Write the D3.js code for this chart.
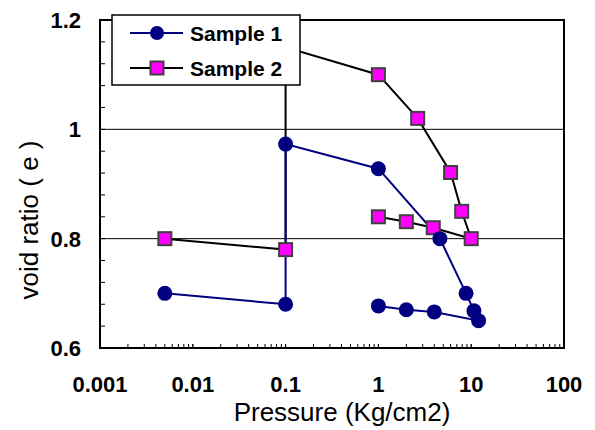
<!DOCTYPE html>
<html>
<head>
<meta charset="utf-8">
<script src="https://cdn.jsdelivr.net/npm/d3@7"></script>
<style>
  body { margin: 0; background: #fff; }
  text { font-family: Arial, "Liberation Sans", sans-serif; }
</style>
</head>
<body>
<script>
// data
var s1Pressure = [0.005, 0.1, 0.1, 1, 4.6, 8.8, 10.7, 12, 4, 2, 1];
var s1Void     = [0.70, 0.68, 0.973, 0.928, 0.80, 0.70, 0.668, 0.65, 0.666, 0.67, 0.677];
var s2Pressure = [0.005, 0.1, 0.1, 1, 2.65, 6, 7.9, 10, 3.9, 2, 1];
var s2Void     = [0.80, 0.78, 1.15, 1.10, 1.02, 0.921, 0.85, 0.80, 0.82, 0.831, 0.84];
var xTicks = [0.001, 0.01, 0.1, 1, 10, 100];
var yTicks = [0.6, 0.8, 1.0, 1.2];
var seriesNames = ['Sample 1', 'Sample 2'];

var width = 595, height = 430;
var margin = {left: 100, right: 31, top: 20, bottom: 82};

var svg = d3.select('body').append('svg')
  .attr('width', width)
  .attr('height', height);

var x = d3.scaleLog().domain([0.001, 100]).range([margin.left, width - margin.right]);
var y = d3.scaleLinear().domain([0.6, 1.2]).range([height - margin.bottom, margin.top]);

// gridlines
svg.selectAll('line.grid')
  .data([0.8, 1.0])
  .enter().append('line')
  .attr('class', 'grid')
  .attr('x1', x(0.001)).attr('x2', x(100))
  .attr('y1', function(d) { return y(d); })
  .attr('y2', function(d) { return y(d); })
  .attr('stroke', '#000').attr('stroke-width', 1);

// minor ticks on x (inside)
var xMinor = [];
for (var e = -3; e < 2; e++) {
  for (var k = 1; k <= 10; k++) xMinor.push(k * Math.pow(10, e));
}
svg.selectAll('line.xt')
  .data(xMinor)
  .enter().append('line')
  .attr('class', 'xt')
  .attr('x1', function(d) { return x(d); })
  .attr('x2', function(d) { return x(d); })
  .attr('y1', y(0.6)).attr('y2', y(0.6) - 4)
  .attr('stroke', '#000').attr('stroke-width', 1);

// minor ticks on y (inside)
var yMinor = d3.range(0, 16).map(function(i) { return 0.6 + i * 0.04; });
svg.selectAll('line.yt')
  .data(yMinor)
  .enter().append('line')
  .attr('class', 'yt')
  .attr('x1', x(0.001)).attr('x2', x(0.001) + 5)
  .attr('y1', function(d) { return y(d); })
  .attr('y2', function(d) { return y(d); })
  .attr('stroke', '#000').attr('stroke-width', 1);

// plot border
svg.append('rect')
  .attr('x', x(0.001)).attr('y', y(1.2))
  .attr('width', x(100) - x(0.001))
  .attr('height', y(0.6) - y(1.2))
  .attr('fill', 'none').attr('stroke', '#000').attr('stroke-width', 2);

// tick labels
svg.selectAll('text.xl')
  .data(xTicks)
  .enter().append('text')
  .attr('class', 'xl')
  .attr('x', function(d) { return x(d); })
  .attr('y', 392)
  .attr('text-anchor', 'middle')
  .attr('font-size', 22).attr('font-weight', 'bold')
  .text(function(d) { return d3.format('~g')(d); });

svg.selectAll('text.yl')
  .data(yTicks)
  .enter().append('text')
  .attr('class', 'yl')
  .attr('x', 81)
  .attr('y', function(d) { return y(d) + 8; })
  .attr('text-anchor', 'end')
  .attr('font-size', 22).attr('font-weight', 'bold')
  .text(function(d) { return d3.format('~g')(d); });

// axis titles
svg.append('text')
  .attr('x', 342).attr('y', 421)
  .attr('text-anchor', 'middle')
  .attr('font-size', 26)
  .text('Pressure (Kg/cm2)');

svg.append('text')
  .attr('transform', 'translate(38,220) rotate(-90)')
  .attr('text-anchor', 'middle')
  .attr('font-size', 26)
  .text('void ratio ( e )');

var line = d3.line()
  .x(function(d) { return x(d[0]); })
  .y(function(d) { return y(d[1]); });

var s1 = d3.zip(s1Pressure, s1Void);
var s2 = d3.zip(s2Pressure, s2Void);

// sample 2 (drawn first)
svg.append('path')
  .datum(s2)
  .attr('d', line)
  .attr('fill', 'none').attr('stroke', '#000').attr('stroke-width', 2);

// sample 1
svg.append('path')
  .datum(s1)
  .attr('d', line)
  .attr('fill', 'none').attr('stroke', '#000080').attr('stroke-width', 2);

svg.selectAll('rect.s2')
  .data(s2)
  .enter().append('rect')
  .attr('class', 's2')
  .attr('x', function(d) { return x(d[0]) - 6.5; })
  .attr('y', function(d) { return y(d[1]) - 6.5; })
  .attr('width', 13).attr('height', 13)
  .attr('fill', '#ff00ff').attr('stroke', '#404040').attr('stroke-width', 2);

svg.selectAll('circle.s1')
  .data(s1)
  .enter().append('circle')
  .attr('class', 's1')
  .attr('cx', function(d) { return x(d[0]); })
  .attr('cy', function(d) { return y(d[1]); })
  .attr('r', 7.5)
  .attr('fill', '#000080');

// legend
var lg = svg.append('g');
lg.append('rect')
  .attr('x', 112).attr('y', 15)
  .attr('width', 188).attr('height', 70)
  .attr('fill', '#fff').attr('stroke', '#000').attr('stroke-width', 1.5);

lg.selectAll('line.lg')
  .data(seriesNames)
  .enter().append('line')
  .attr('x1', 130).attr('x2', 183)
  .attr('y1', function(d, i) { return 33 + i * 35; })
  .attr('y2', function(d, i) { return 33 + i * 35; })
  .attr('stroke', function(d, i) { return i == 0 ? '#000080' : '#000'; })
  .attr('stroke-width', 2);

lg.append('circle')
  .attr('cx', 157).attr('cy', 33).attr('r', 7)
  .attr('fill', '#000080');
lg.append('rect')
  .attr('x', 150.5).attr('y', 61.5)
  .attr('width', 13).attr('height', 13)
  .attr('fill', '#ff00ff').attr('stroke', '#404040').attr('stroke-width', 2);

lg.selectAll('text.lg')
  .data(seriesNames)
  .enter().append('text')
  .attr('x', 190)
  .attr('y', function(d, i) { return 41 + i * 35; })
  .attr('font-size', 21).attr('font-weight', 'bold')
  .text(function(d) { return d; });
</script>
</body>
</html>
